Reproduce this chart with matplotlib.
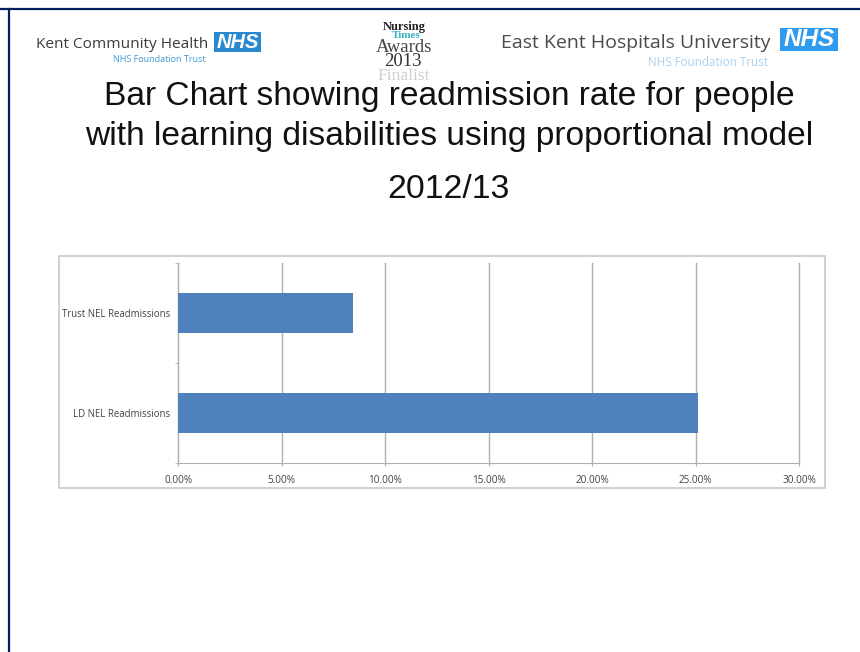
import matplotlib
matplotlib.use('Agg')
import matplotlib.pyplot as plt
from matplotlib.patches import Rectangle
from matplotlib.lines import Line2D

W, H = 860, 652

categories = ['LD NEL Readmissions', 'Trust NEL Readmissions']
rates = [25.1, 8.45]
ticks = [0, 5, 10, 15, 20, 25, 30]
tick_labels = ['0.00%', '5.00%', '10.00%', '15.00%', '20.00%', '25.00%', '30.00%']

title_lines = ['Bar Chart showing readmission rate for people',
               'with learning disabilities using proportional model']
title_year = '2012/13'

plt.rcParams['font.family'] = ['Liberation Sans', 'DejaVu Sans']

fig = plt.figure(figsize=(W/100, H/100), dpi=100, facecolor='white')


def fx(px):
    return px / W


def fy(py):
    return 1 - py / H


def label(x, y, s, **kw):
    kw.setdefault('ha', 'center')
    kw.setdefault('va', 'center')
    fig.text(fx(x), fy(y), s, **kw)


def nhs_logo(x0, y0, x1, y1, size, colour):
    fig.add_artist(Rectangle((fx(x0), fy(y1)), fx(x1-x0), fy(y0)-fy(y1),
                             transform=fig.transFigure, fc=colour, ec='none'))
    label((x0+x1)/2, (y0+y1)/2, 'NHS', color='white', fontsize=size,
          fontweight='bold', fontstyle='italic')


# slide border
navy = '#002060'
fig.add_artist(Line2D([0, 1], [fy(8.5), fy(8.5)], color=navy, lw=1.6))
fig.add_artist(Line2D([fx(8.8), fx(8.8)], [fy(8.5), 0], color=navy, lw=1.6))

# header logos
label(36, 45, 'Kent Community Health', ha='left', color='#3c3c3c', fontsize=11.1, family='Open Sans')
nhs_logo(214, 32, 261, 52, 14.5, '#2a88cf')
label(159.5, 60, 'NHS Foundation Trust', color='#3f9ad6', fontsize=6.5, family='Open Sans')

label(404, 27, 'Nursing', color='#222222', fontsize=9, family='Liberation Serif', fontweight='bold')
label(406, 36, 'Times', color='#35b5c4', fontsize=8, family='Liberation Serif', fontweight='bold')
label(404, 47, 'Awards', color='#444444', fontsize=13.5, family='Liberation Serif')
label(403, 61, '2013', color='#333333', fontsize=13.5, family='Liberation Serif')
label(404, 76, 'Finalist', color='#cfcfcf', fontsize=12.5, family='Liberation Serif')

label(501, 43, 'East Kent Hospitals University', ha='left', color='#4a4a4a', fontsize=14, family='Open Sans')
nhs_logo(780, 28, 838, 51, 17.5, '#2f9bf0')
label(707.5, 63, 'NHS Foundation Trust', color='#a9d0f0', fontsize=8.4, family='Open Sans')

# title
label(449, 97, title_lines[0], fontsize=24.1, color='#111111')
label(449, 137, title_lines[1], fontsize=24.1, color='#111111')
label(448.5, 189, title_year, fontsize=24.3, color='#111111')

# chart frame
fig.add_artist(Rectangle((fx(59), fy(488)), fx(825-59), fy(256)-fy(488),
                         transform=fig.transFigure, fc='white', ec='#c8c8c8', lw=1.2, zorder=-1))

ax = fig.add_axes([fx(178.3), fy(462.7), fx(799-178.3), fy(262.7)-fy(462.7)])
ax.set_facecolor('none')
ax.barh(categories, rates, height=0.4, color='#4f81bd', zorder=3)
ax.set_xlim(0, 30)
ax.set_ylim(-0.5, 1.5)
ax.set_xticks(ticks)
ax.set_xticklabels(tick_labels)
ax.set_yticks([-0.5, 0.5, 1.5], minor=True)
ax.grid(axis='x', color='#b0b0b0', lw=1, zorder=1, clip_on=False)
ax.set_axisbelow(True)
for side in ['top', 'right']:
    ax.spines[side].set_visible(False)
for side in ['left', 'bottom']:
    ax.spines[side].set_color('#b0b0b0')
ax.tick_params(axis='y', which='major', length=0, pad=6, labelsize=6.9, labelcolor='#444444')
ax.tick_params(axis='y', which='minor', length=2, color='#b0b0b0')
ax.tick_params(axis='x', length=2, color='#b0b0b0', pad=7, labelsize=7.2, labelcolor='#444444')
for t in ax.get_xticklabels() + ax.get_yticklabels():
    t.set_family('Open Sans')

fig.savefig('out.png', dpi=100)
